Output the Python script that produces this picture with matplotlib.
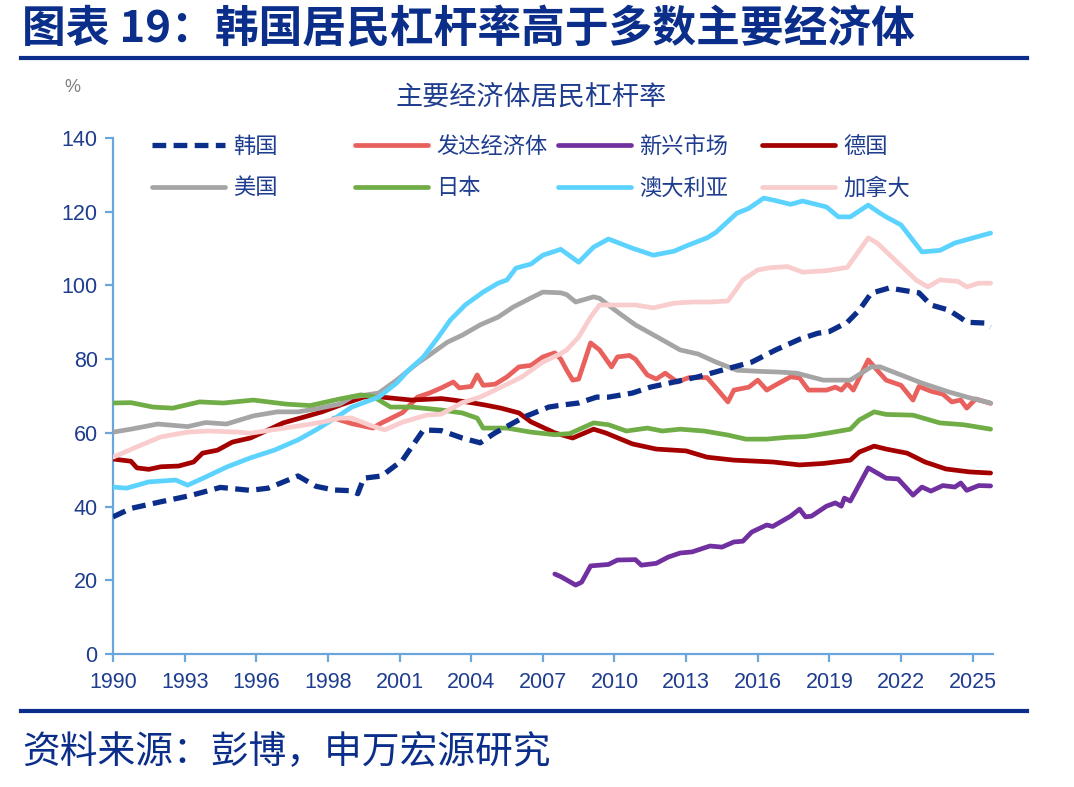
import matplotlib
matplotlib.use("Agg")
import matplotlib.pyplot as plt
from matplotlib.lines import Line2D

# ---------------- data (x = quarter index from 1990Q1) ----------------
tick_pos = [0, 12, 24, 36, 48, 60, 72, 84, 96, 108, 120, 132, 144]
tick_labels = ['1990', '1993', '1996', '1998', '2001', '2004', '2007',
               '2010', '2013', '2016', '2019', '2022', '2025']

korea_x = [0, 3, 8, 13, 18, 23, 26, 31, 34, 37, 40, 41, 42, 45, 48.5, 52, 55, 58.5,
           61.5, 64, 69, 73, 75, 78, 81, 83, 87, 90, 94, 98, 102, 107, 111, 115, 118,
           120, 123, 125, 127, 130, 133, 135, 137, 140, 142, 143, 146, 147]
korea_y = [37.2, 39.5, 41.3, 43, 45.2, 44.4, 45, 48.3, 45.5, 44.5, 44.3, 43.5, 47.7,
           48.3, 52.6, 60.8, 60.6, 58.6, 57.3, 60, 64.4, 67, 67.5, 68.1, 69.7, 69.7,
           70.8, 72.4, 73.8, 75.2, 77, 79.2, 82.5, 85.4, 87, 87.5, 90, 93.3, 97.9, 99.3,
           98.5, 98, 94.7, 93.3, 91.2, 90, 89.8, 88.7]

dev_x = [37, 40, 43.5, 45, 47, 48.5, 50, 51, 53, 55, 57, 58, 60, 61, 62, 64, 66, 68,
         70, 72, 74, 75, 76, 77, 78, 80, 81.5, 83.5, 84.5, 86.5, 87.5, 89.5, 91, 92.5,
         94.5, 96.5, 99.5, 101, 103, 104, 106.5, 108, 109.5, 111, 113.5, 115, 116.5,
         119.5, 121, 122, 123, 124, 126.5, 128, 129.5, 132, 134, 135, 137, 139, 140.5,
         142, 143, 144.5, 147]
dev_y = [64, 62.5, 61.3, 62.7, 64.3, 65.5, 68, 69.7, 70.8, 72.2, 73.8, 72.2, 72.6,
         75.7, 72.9, 73.2, 75.2, 77.9, 78.3, 80.6, 81.7, 80, 77, 74.3, 74.6, 84.4, 82.5,
         77.9, 80.6, 81, 80, 75.7, 74.6, 76.2, 73.8, 75, 75, 72.2, 68.4, 71.6, 72.4,
         74.3, 71.6, 73, 75.2, 74.9, 71.6, 71.6, 72.4, 71.6, 73.4, 71.6, 79.8, 77, 74.3,
         72.9, 68.9, 72.6, 71.3, 70.5, 68.4, 68.9, 66.7, 69.2, 68]

em_x = [74, 75, 77.5, 78.5, 80, 83, 84.5, 87.5, 88.5, 91, 93, 95, 97, 100, 102, 104,
        105.5, 107, 109.5, 110.5, 113.5, 115, 116, 117, 119.5, 121, 122, 122.5, 123.5,
        126.5, 129.5, 131.5, 134, 135.5, 137, 139, 141, 142, 143, 145, 147]
em_y = [21.7, 21, 18.7, 19.5, 23.9, 24.3, 25.5, 25.6, 24.1, 24.6, 26.3, 27.4, 27.7,
        29.3, 29, 30.4, 30.6, 33.1, 35, 34.6, 37.4, 39.3, 37.2, 37.4, 40.1, 41, 40.1,
        42.3, 41.5, 50.5, 47.7, 47.5, 43.1, 45.3, 44.2, 45.7, 45.3, 46.4, 44.4, 45.7, 45.6]

ger_x = [0, 3, 4, 6, 8, 11, 13.5, 15, 17.5, 20, 23, 26, 28.5, 32, 35, 38.5, 42, 45, 50,
         55, 57, 60, 62.5, 65, 68, 70, 72, 74, 77, 80.5, 82.5, 87, 91, 96, 99.5, 104,
         110.5, 115, 119, 123.5, 125, 127.5, 129.5, 133, 136, 139.5, 143.5, 147]
ger_y = [52.9, 52.3, 50.5, 50.1, 50.8, 51, 52.1, 54.5, 55.3, 57.5, 58.6, 60.8, 62.7,
         64.3, 65.7, 67.8, 69.7, 69.7, 68.9, 69.3, 68.9, 68.2, 67.5, 66.7, 65.4, 63,
         61.5, 60, 58.6, 61, 60, 57, 55.6, 55.1, 53.4, 52.6, 52.1, 51.3, 51.7, 52.6,
         54.8, 56.4, 55.6, 54.5, 52.1, 50.2, 49.4, 49.1]

us_x = [0, 3, 7.5, 12.5, 15.5, 19, 23.5, 27.5, 31, 34, 38, 40, 44.5, 47.5, 51, 53, 56,
        58.5, 61.5, 64.5, 67, 70, 72, 75, 76, 77.5, 80.5, 81.5, 84.5, 87.5, 91.5, 95,
        98, 101, 104.5, 108, 111.5, 114.5, 119, 123.5, 127, 128.5, 132, 135.5, 140,
        143.5, 147]
us_y = [60.2, 61, 62.4, 61.7, 62.8, 62.4, 64.6, 65.7, 65.7, 66.5, 67.8, 69.7, 70.8,
        74.3, 78.9, 81.1, 84.6, 86.5, 89.3, 91.4, 94.1, 96.6, 98.2, 98, 97.5, 95.5,
        96.9, 96.5, 92.8, 89.3, 85.7, 82.5, 81.4, 79.2, 77, 76.7, 76.5, 76.2, 74.3,
        74.3, 77.9, 77.9, 75.7, 73.5, 71.1, 69.5, 68.1]

jp_x = [0, 3, 6.7, 10, 14.5, 18.5, 23.5, 29, 33, 38, 41.5, 43.5, 46.5, 50, 55, 58.5,
        61, 62, 66, 70, 74, 76.5, 80.5, 83, 86, 89.5, 92, 95, 99, 103, 106, 109.5, 113,
        116, 120, 123.5, 125, 127.5, 129.5, 134, 138.5, 142.5, 147]
jp_y = [68.1, 68.2, 67, 66.7, 68.4, 68.1, 68.9, 67.8, 67.4, 69.2, 70.3, 69.9, 67, 67,
        66.2, 65.4, 64, 61.3, 61.3, 60.2, 59.5, 59.8, 62.7, 62.2, 60.5, 61.3, 60.5, 61,
        60.5, 59.4, 58.3, 58.3, 58.8, 59, 60, 61, 63.5, 65.7, 65, 64.8, 62.7, 62.2, 61]

au_x = [0, 2.3, 6, 10.5, 12.5, 15.5, 19, 23, 27, 31, 34, 37.5, 40, 44.5, 47.5, 49.5,
        52, 54.5, 56.5, 59, 62, 64.5, 66, 67.5, 70, 72, 75, 78, 80.5, 83, 87, 90.5, 94,
        96, 99.5, 101, 104.5, 106.5, 109, 111, 113.5, 115.5, 119.5, 121.5, 123.5,
        126.5, 128.5, 129.5, 132, 135.5, 138.5, 141, 144.5, 147]
au_y = [45.3, 45, 46.7, 47.2, 45.8, 48, 50.7, 53.2, 55.3, 58.1, 60.8, 64.3, 67, 69.7,
        73.5, 77, 80.6, 86, 90.6, 94.7, 98.2, 100.6, 101.5, 104.7, 105.8, 108.2, 109.8,
        106.3, 110.4, 112.6, 110.1, 108.2, 109.3, 110.7, 112.9, 114.4, 119.6, 120.9,
        123.7, 123, 122, 122.9, 121.3, 118.6, 118.6, 121.8, 119.6, 118.6, 116.4, 109.1,
        109.5, 111.5, 113.1, 114.2]

ca_x = [0, 4, 8, 12.5, 16, 21, 23, 27.5, 32, 35, 38, 40, 43, 45.5, 48.5, 52.5, 55,
        58.5, 61.5, 65, 68.5, 72, 75, 76, 78, 80, 81.5, 84.5, 87.5, 90.5, 94, 97, 100,
        103, 105.5, 108, 110, 113, 115.5, 119.5, 123, 126.5, 128, 131.5, 134.5, 136.5,
        138.5, 141.5, 143, 145, 147]
ca_y = [53.4, 56.2, 58.9, 60.2, 60.5, 60.2, 59.9, 61, 62.1, 62.9, 64, 64, 62.1, 60.8,
        62.9, 64.8, 65.1, 68.2, 69.7, 72.4, 75.2, 79.2, 81.5, 82.5, 86, 91.4, 94.7,
        94.7, 94.7, 93.9, 95.2, 95.5, 95.5, 95.8, 101.5, 104.2, 104.8, 105.1, 103.6,
        104, 104.9, 112.9, 111.5, 106.1, 101.5, 99.6, 101.5, 101.1, 99.6, 100.6, 100.6]

names = ['韩国', '发达经济体', '新兴市场', '德国', '美国', '日本', '澳大利亚', '加拿大']
colors = ['#0B2E8A', '#E8615D', '#7030A0', '#A50000', '#A5A5A5', '#70AD47',
          '#5CD3FF', '#F9CDCD']

# ---------------- styling ----------------
CJK = ['Noto Sans CJK SC', 'DejaVu Sans']
NUM = ['Liberation Sans', 'DejaVu Sans']
DARK = '#0B2E8A'
TXT = '#1F3D8F'
AXC = '#6AA6DC'

plt.rcParams['font.family'] = CJK

fig = plt.figure(figsize=(10.74, 7.87), dpi=100)
ax = fig.add_axes([113 / 1074, 1 - 654 / 787, (993 - 113) / 1074, (654 - 138) / 787])

series = [
    (korea_x, korea_y), (dev_x, dev_y), (em_x, em_y), (ger_x, ger_y),
    (us_x, us_y), (jp_x, jp_y), (au_x, au_y), (ca_x, ca_y),
]
zorders = [10, 3, 3, 3, 3, 3, 3, 3]
handles = []
for (xs, ys), name, c, z in zip(series, names, colors, zorders):
    if name == '韩国':
        h, = ax.plot(xs, ys, color=c, lw=3.8, linestyle=(0, (2.6, 1.4)),
                     zorder=z, label=name)
    else:
        h, = ax.plot(xs, ys, color=c, lw=3.4, zorder=z, label=name,
                     solid_joinstyle='round', solid_capstyle='round')
    handles.append(h)

ax.set_xlim(0, 147.4)
ax.set_ylim(0, 140)
ax.set_yticks(range(0, 141, 20))
ax.set_xticks(tick_pos)
ax.set_xticklabels(tick_labels)

for s in ['top', 'right']:
    ax.spines[s].set_visible(False)
for s in ['left', 'bottom']:
    ax.spines[s].set_color(AXC)
    ax.spines[s].set_linewidth(1.6)
ax.tick_params(axis='both', colors=AXC, length=6, width=1.6, direction='out')
ax.tick_params(axis='y', pad=5)
ax.tick_params(axis='x', pad=7)
for lab in ax.get_xticklabels() + ax.get_yticklabels():
    lab.set_color(TXT)
    lab.set_fontfamily(NUM)
    lab.set_fontsize(15.5)

# legend: four columns, each two rows
col_x = [152, 355, 558, 762]
for ci in range(4):
    hs = [handles[ci], handles[ci + 4]]
    leg = fig.legend(hs, [h.get_label() for h in hs], loc='center left',
                     bbox_to_anchor=(col_x[ci] / 1074, 1 - 167 / 787),
                     frameon=False, ncol=1, handlelength=3.3,
                     handletextpad=0.35, borderpad=0, borderaxespad=0,
                     labelspacing=0.85, prop={'family': CJK, 'size': 16})
    for t in leg.get_texts():
        t.set_color(TXT)

# titles and decorations
fig.text(22 / 1074, 1 - 29 / 787, '图表 19：韩国居民杠杆率高于多数主要经济体',
         fontsize=31.5, fontweight='heavy', color=DARK, ha='left', va='center',
         family=CJK)
fig.add_artist(Line2D([21 / 1074, 1027 / 1074], [1 - 58 / 787, 1 - 58 / 787],
                      transform=fig.transFigure, color=DARK, lw=3.0))
fig.text(531 / 1074, 1 - 97 / 787, '主要经济体居民杠杆率', fontsize=19.5,
         color=TXT, ha='center', va='center', family=CJK)
fig.text(72 / 1074, 1 - 88 / 787, '%', fontsize=13, color='#7F7F7F',
         ha='center', va='center', family=NUM)
fig.add_artist(Line2D([21 / 1074, 1027 / 1074], [1 - 711 / 787, 1 - 711 / 787],
                      transform=fig.transFigure, color=DARK, lw=3.0))
fig.text(22 / 1074, 1 - 752 / 787, '资料来源：彭博，申万宏源研究', fontsize=27.2,
         color=DARK, ha='left', va='center', family=CJK)

fig.savefig('out.png', dpi=100)
